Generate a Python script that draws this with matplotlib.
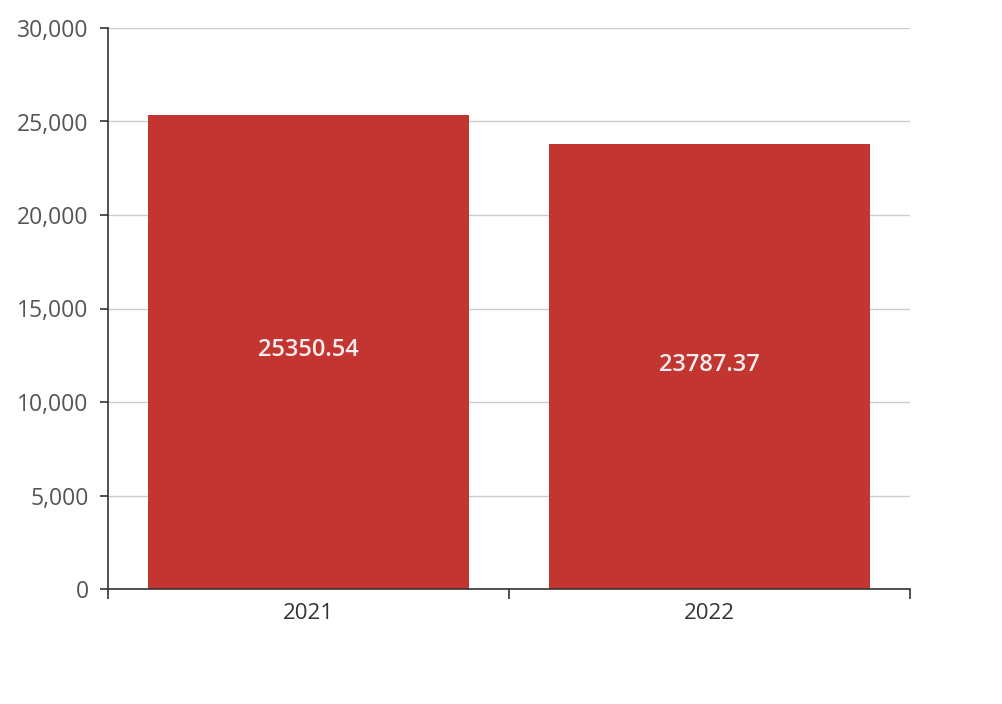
import numpy as np
import matplotlib.pyplot as plt
from matplotlib.ticker import FuncFormatter

years = ['2021', '2022']
values = [25350.54, 23787.37]
y_ticks = [0, 5000, 10000, 15000, 20000, 25000, 30000]

plt.rcParams['font.family'] = ['Open Sans', 'DejaVu Sans']

fig = plt.figure(figsize=(10.03, 7.04), dpi=100)
ax = fig.add_axes([108 / 1003, 1 - 589 / 704, 802 / 1003, 561 / 704])

x = np.arange(len(years))
bars = ax.bar(x, values, width=0.8, color='#c23531', zorder=2)

for b, v in zip(bars, values):
    ax.text(b.get_x() + b.get_width() / 2, v / 2 + 100, f'{v:.2f}',
            ha='center', va='center', color='#fbeeee', fontsize=17, fontweight='semibold')

ax.set_xlim(-0.5, len(years) - 0.5)
ax.set_ylim(0, 30000)
ax.set_yticks(y_ticks)
ax.yaxis.set_major_formatter(FuncFormatter(lambda v, p: f'{int(v):,}'))
ax.grid(axis='y', color='#cccccc', linewidth=1, zorder=0)

# boundary ticks between categories, labels centred on bars
ax.set_xticks(np.arange(-0.5, len(years), 1.0))
ax.set_xticklabels([])
ax.set_xticks(x, minor=True)
ax.set_xticklabels(years, minor=True)
ax.tick_params(axis='x', which='minor', length=0, pad=10, labelsize=16, labelcolor='#333333')
ax.tick_params(axis='x', which='major', length=7, color='#333333', width=1.2)
ax.tick_params(axis='y', length=6, color='#333333', width=1.2, labelsize=16.5, labelcolor='#555555', pad=8)

for s in ['top', 'right']:
    ax.spines[s].set_visible(False)
for s in ['left', 'bottom']:
    ax.spines[s].set_color('#333333')
    ax.spines[s].set_linewidth(1.2)

plt.savefig('out.png', dpi=100)
